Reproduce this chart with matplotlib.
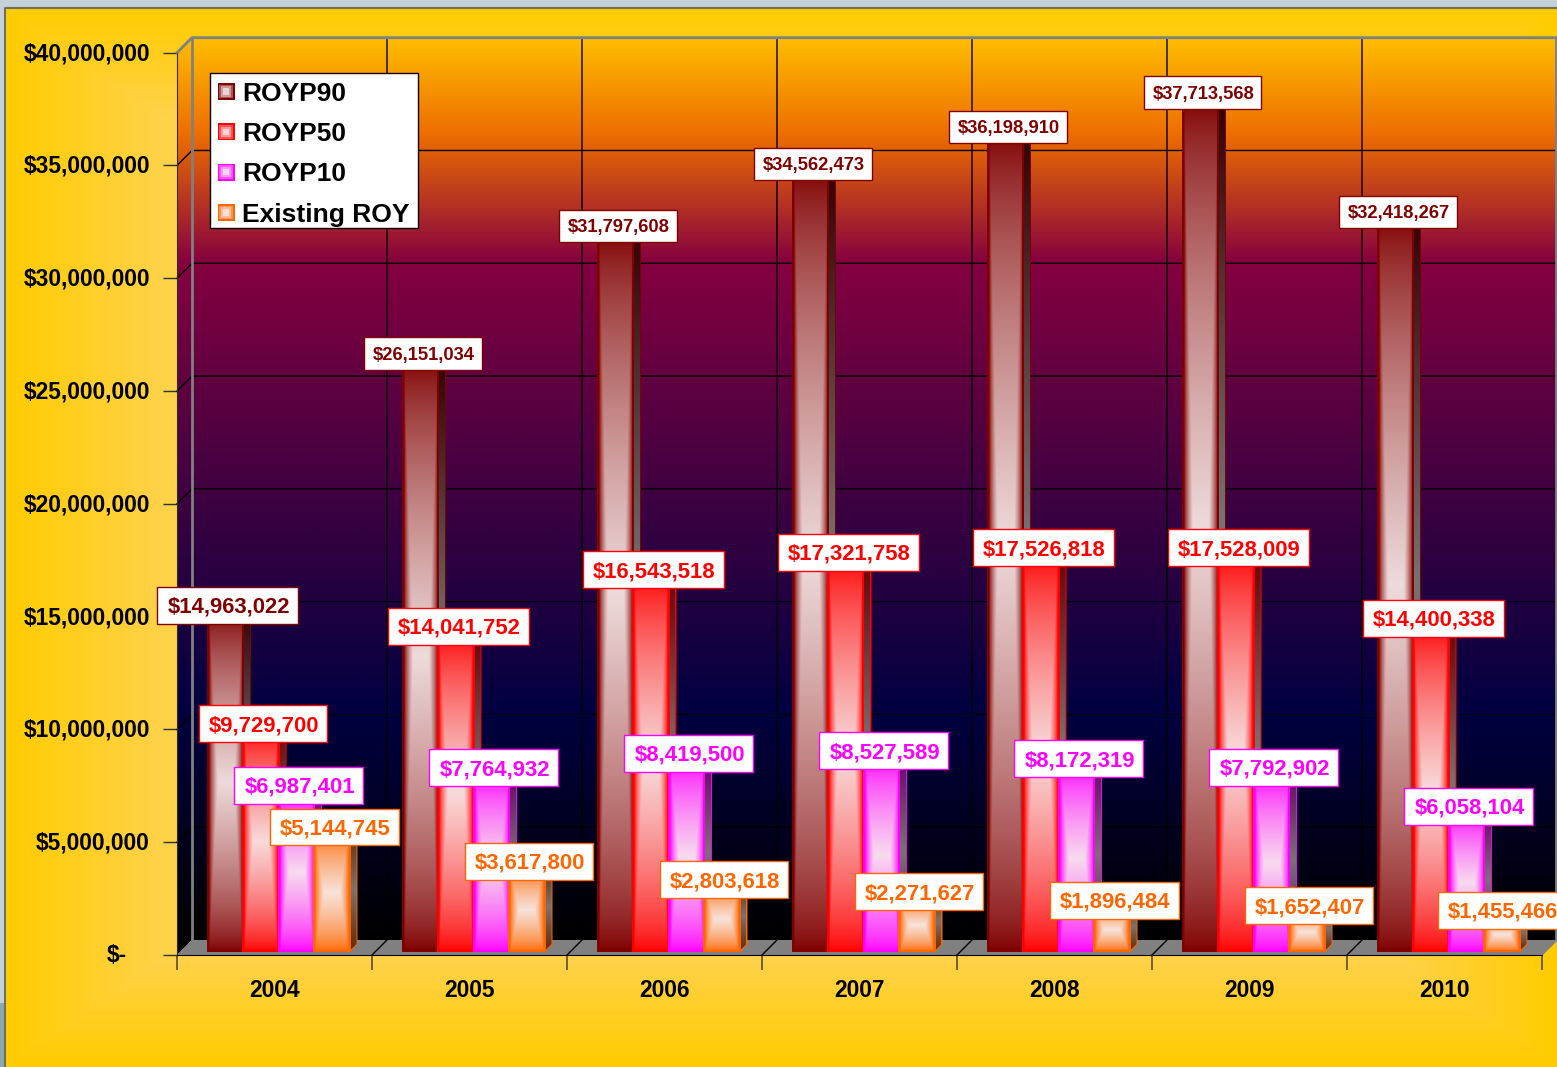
import numpy as np
import matplotlib
matplotlib.use('Agg')
import matplotlib.pyplot as plt
from matplotlib.colors import to_rgb
from matplotlib.legend_handler import HandlerBase
from matplotlib.patches import Polygon, Rectangle
from matplotlib.path import Path
from matplotlib.ticker import FuncFormatter
from matplotlib.transforms import ScaledTranslation

W, H = 1557, 1067
years = ['2004', '2005', '2006', '2007', '2008', '2009', '2010']
series = ['ROYP90', 'ROYP50', 'ROYP10', 'Existing ROY']
royp90 = [14963022, 26151034, 31797608, 34562473, 36198910, 37713568, 32418267]
royp50 = [9729700, 14041752, 16543518, 17321758, 17526818, 17528009, 14400338]
royp10 = [6987401, 7764932, 8419500, 8527589, 8172319, 7792902, 6058104]
existing = [5144745, 3617800, 2803618, 2271627, 1896484, 1652407, 1455466]
values = [royp90, royp50, royp10, existing]
colors = ['#800000', '#ff0000', '#ff00ff', '#ff6600']
y_ticks = [0, 5e6, 10e6, 15e6, 20e6, 25e6, 30e6, 35e6, 40e6]

# wall gradient stops, bottom to top
wall_pos = [0.0, 0.25, 0.5, 0.75, 0.895, 1.0]
wall_cols = ['#000000', '#000040', '#400040', '#850040', '#ee6f00', '#ffbe00']

plt.rcParams['font.family'] = ['Liberation Sans', 'DejaVu Sans']
PT = 0.72  # points per pixel at dpi 100

fig = plt.figure(figsize=(W / 100, H / 100), dpi=100)

# window background and yellow panel, in pixel coordinates
bg = fig.add_axes([0, 0, 1, 1])
bg.set_xlim(0, W)
bg.set_ylim(H, 0)
bg.axis('off')
bg.add_patch(Rectangle((0, 0), W, H, fc='#c6d1d7', ec='none'))
bg.add_patch(Rectangle((0, 1003), 6, 64, fc='#8aa9ad', ec='none'))
yy, xx = np.mgrid[0:1:200j, 0:1:300j]
t = np.maximum(np.abs(2 * xx - 1), np.abs(2 * yy - 1))
mix = np.clip((1 - t) / 0.2, 0, 1)[..., None]
panel = np.array(to_rgb('#ffcc00')) * (1 - mix) + np.array(to_rgb('#ffd24a')) * mix
bg.imshow(panel, extent=[5, W, H, 8], aspect='auto', zorder=1)
bg.plot([5.5, 5.5, W], [H, 7.5, 7.5], color='#6f6f60', lw=1.5, zorder=2)
bg.set_xlim(0, W)
bg.set_ylim(H, 0)

# front plane of the 3D box
left, right, top, bottom = 177, 1542, 52.7, 955
ax = fig.add_axes([left / W, 1 - bottom / H, (right - left) / W, (bottom - top) / H])
ax.patch.set_visible(False)
ax.set_xlim(0, len(years))
ax.set_ylim(0, 40e6)
px_x = len(years) / (right - left)
px_y = 40e6 / (bottom - top)
dx, dy = 15 * px_x, 15 * px_y
x_end = dx + len(years)

# back and left wall share one gradient; below the back wall it stays black
col_wall = np.array([to_rgb(c) for c in wall_cols])
h = np.linspace(0, 40e6 + dy, 800)
h_pos = dy + np.array(wall_pos) * 40e6
wall = np.stack([np.interp(h, h_pos, col_wall[:, k]) for k in range(3)], axis=1)[::-1][:, None, :]
im = ax.imshow(wall, extent=[0, x_end, 0, 40e6 + dy], aspect='auto', zorder=1, clip_on=False)
outline = Polygon([(0, 0), (0, 40e6), (dx, 40e6 + dy), (x_end, 40e6 + dy), (x_end, dy), (dx, dy)],
                  transform=ax.transData, fc='none', ec='none')
ax.add_patch(outline)
outline.set_clip_on(False)
im.set_clip_on(True)
im.set_clip_box(fig.bbox)
im.set_clip_path(outline)

# floor
ax.add_patch(Polygon([(0, 0), (len(years), 0), (x_end, dy), (dx, dy)], fc='#808080', ec='none',
                     zorder=1.5, clip_on=False))

# gridlines on the walls
for v in y_ticks[1:-1]:
    ax.plot([0, dx, x_end], [v, v + dy, v + dy], color='black', lw=1, zorder=2, clip_on=False)
for i in range(1, len(years) + 1):
    ax.plot([i, i + dx, i + dx], [0, dy, 40e6 + dy], color='black' if i < len(years) else '#808080',
            lw=1, zorder=2, clip_on=False)
ax.plot([dx, dx], [dy, 40e6 + dy], color='#808080', lw=2, zorder=2.1, clip_on=False)
ax.plot([0, dx, x_end - 1.2 * px_x], [40e6, 40e6 + dy, 40e6 + dy], color='#808080', lw=2, zorder=2.1, clip_on=False)
ax.plot([x_end - 1.2 * px_x] * 2, [dy, 40e6 + dy], color='#808080', lw=2, zorder=2.1, clip_on=False)


def bar_shade(color, ny=240, nx=48):
    c = np.array(to_rgb(color))
    pale = c * 0.08 + np.array([0.97, 0.93, 0.93]) * 0.92
    yy, xx = np.mgrid[-1:1:complex(ny), -1:1:complex(nx)]
    edge = np.clip((np.abs(xx) - 0.45) / 0.5, 0, 1)
    t = np.maximum(edge, np.abs(yy))[..., None]
    m = (1 - t) ** 0.7
    return pale * m + c * (1 - m)


def side_shade(color, ny=240):
    c = np.array(to_rgb(color))
    yy = np.abs(np.linspace(-1, 1, ny))[:, None, None]
    return np.array([0.47, 0.45, 0.45]) * (1 - yy) + c * 0.4 * yy


def label_box(pad_x, pad_y):
    # square box sitting a little higher than the text layout, so the digits look centred
    def box(x0, y0, width, height, size):
        l, r = x0 - (pad_x + 0.05) * size, x0 + width + (pad_x - 0.05) * size
        b, t = y0 - (pad_y - 0.09) * size, y0 + height + (pad_y + 0.09) * size
        return Path([(l, b), (r, b), (r, t), (l, t), (l, b)], closed=True)
    return box


# bars, left to right so each one covers the side of its neighbour
bar_w = 35.5 * px_x
start = 30.5 * px_x
lift = 4 * px_y
d_x, d_y = 7 * px_x, 7 * px_y
for i, year in enumerate(years):
    for j, vals in enumerate(values):
        x0 = i + start + j * bar_w
        x1 = x0 + bar_w
        y1 = lift + vals[i]
        c = colors[j]
        side = Polygon([(x1, lift), (x1 + d_x, lift + d_y), (x1 + d_x, y1 + d_y), (x1, y1)],
                       transform=ax.transData, fc='none', ec=c, lw=1.4, zorder=3, clip_on=False)
        ax.add_patch(side)
        s_im = ax.imshow(side_shade(c), extent=[x1, x1 + d_x, lift, y1 + d_y], aspect='auto', zorder=3)
        s_im.set_clip_path(side)
        ax.add_patch(Polygon([(x0, y1), (x1, y1), (x1 + d_x, y1 + d_y), (x0 + d_x, y1 + d_y)],
                             fc=c, ec=c, lw=1, zorder=3, clip_on=False))
        ax.imshow(bar_shade(c), extent=[x0, x1, lift, y1], aspect='auto', zorder=3, interpolation='bilinear')
        ax.add_patch(Rectangle((x0, lift), bar_w, vals[i], fc='none', ec=c, lw=1.4, zorder=3))

# value labels sit on top of everything
for j, vals in enumerate(values):
    for i, v in enumerate(vals):
        small = j == 0 and i > 0
        size = 13.2 if small else 15.9
        box = label_box(0.42, 0.42) if small else label_box(0.41, 0.36)
        x = i + start + (j + 0.5) * bar_w
        # the last label runs to the window edge, keep its digits inside
        shift = 1.5 if (j == 3 and i == len(vals) - 1) else 3.5
        ax.annotate('${:,}'.format(v), (x, lift + v), xytext=(shift * PT, 6 * PT), textcoords='offset points',
                    ha='center', va='center', fontsize=size, fontweight='bold', color=colors[j],
                    bbox=dict(boxstyle=box, fc='white', ec=colors[j], lw=1),
                    zorder=10, annotation_clip=False)

ax.set_xlim(0, len(years))
ax.set_ylim(0, 40e6)

# axes and ticks
for name in ('top', 'right'):
    ax.spines[name].set_visible(False)
ax.spines['left'].set_color('#303030')
ax.spines['bottom'].set_color('black')
ax.spines['left'].set_zorder(2.5)
ax.spines['bottom'].set_zorder(2.5)
ax.set_yticks(y_ticks)
ax.yaxis.set_major_formatter(FuncFormatter(lambda v, p: '$-' if v == 0 else '${:,.0f}'.format(v)))
ax.tick_params(axis='y', length=14 * PT, width=1, color='#303030', pad=13 * PT, labelsize=16.4)
ax.yaxis.get_major_ticks()[0].set_pad(36 * PT)
ax.set_xticks(range(len(years) + 1))
ax.set_xticks([i + 0.5 for i in range(len(years))], labels=years, minor=True)
ax.tick_params(axis='x', which='major', length=15 * PT, width=1.4, color='#70603a', labelbottom=False)
ax.tick_params(axis='x', which='minor', length=0, pad=24 * PT, labelsize=16.4)
fig.canvas.draw()
nudge = ScaledTranslation(0, 1.5 / 100, fig.dpi_scale_trans)
for lab in ax.get_yticklabels():
    lab.set_fontweight('bold')
    lab.set_transform(lab.get_transform() + nudge)
for lab in ax.get_xticklabels(minor=True):
    lab.set_fontweight('bold')


class SwatchHandler(HandlerBase):
    def create_artists(self, legend, orig, xd, yd, width, height, fontsize, trans):
        s = 12.2
        x, y = -xd + (width - s) / 2, -yd + (height - s) / 2
        col = np.array(to_rgb(orig.get_edgecolor()))
        white = np.array([0.96, 0.93, 0.93])
        arts = []
        for inset, m in ((0, 0.0), (1.2, 0.35), (2.4, 0.65), (3.8, 0.9)):
            arts.append(Rectangle((x + inset, y + inset), s - 2 * inset, s - 2 * inset,
                                  fc=col * (1 - m) + white * m, ec='none', transform=trans))
        return arts


# legend frame drawn separately, the rows need less room below than above
ax.add_patch(Rectangle((210, 73), 208, 155, fc='white', ec='black', lw=1, transform=bg.transData,
                       zorder=10.5, clip_on=False))
handles = [Rectangle((0, 0), 1, 1, ec=c) for c in colors]
leg = ax.legend(handles, series, handler_map={Rectangle: SwatchHandler()}, loc='upper left',
                bbox_to_anchor=((209 - left) / (right - left), (bottom - 73) / (bottom - top)),
                borderaxespad=0, prop=dict(weight='bold', size=19), frameon=False,
                labelspacing=0.62, borderpad=0.33, handlelength=0.65, handletextpad=0.27)
leg.set_zorder(11)

fig.savefig('out.png', dpi=100)
